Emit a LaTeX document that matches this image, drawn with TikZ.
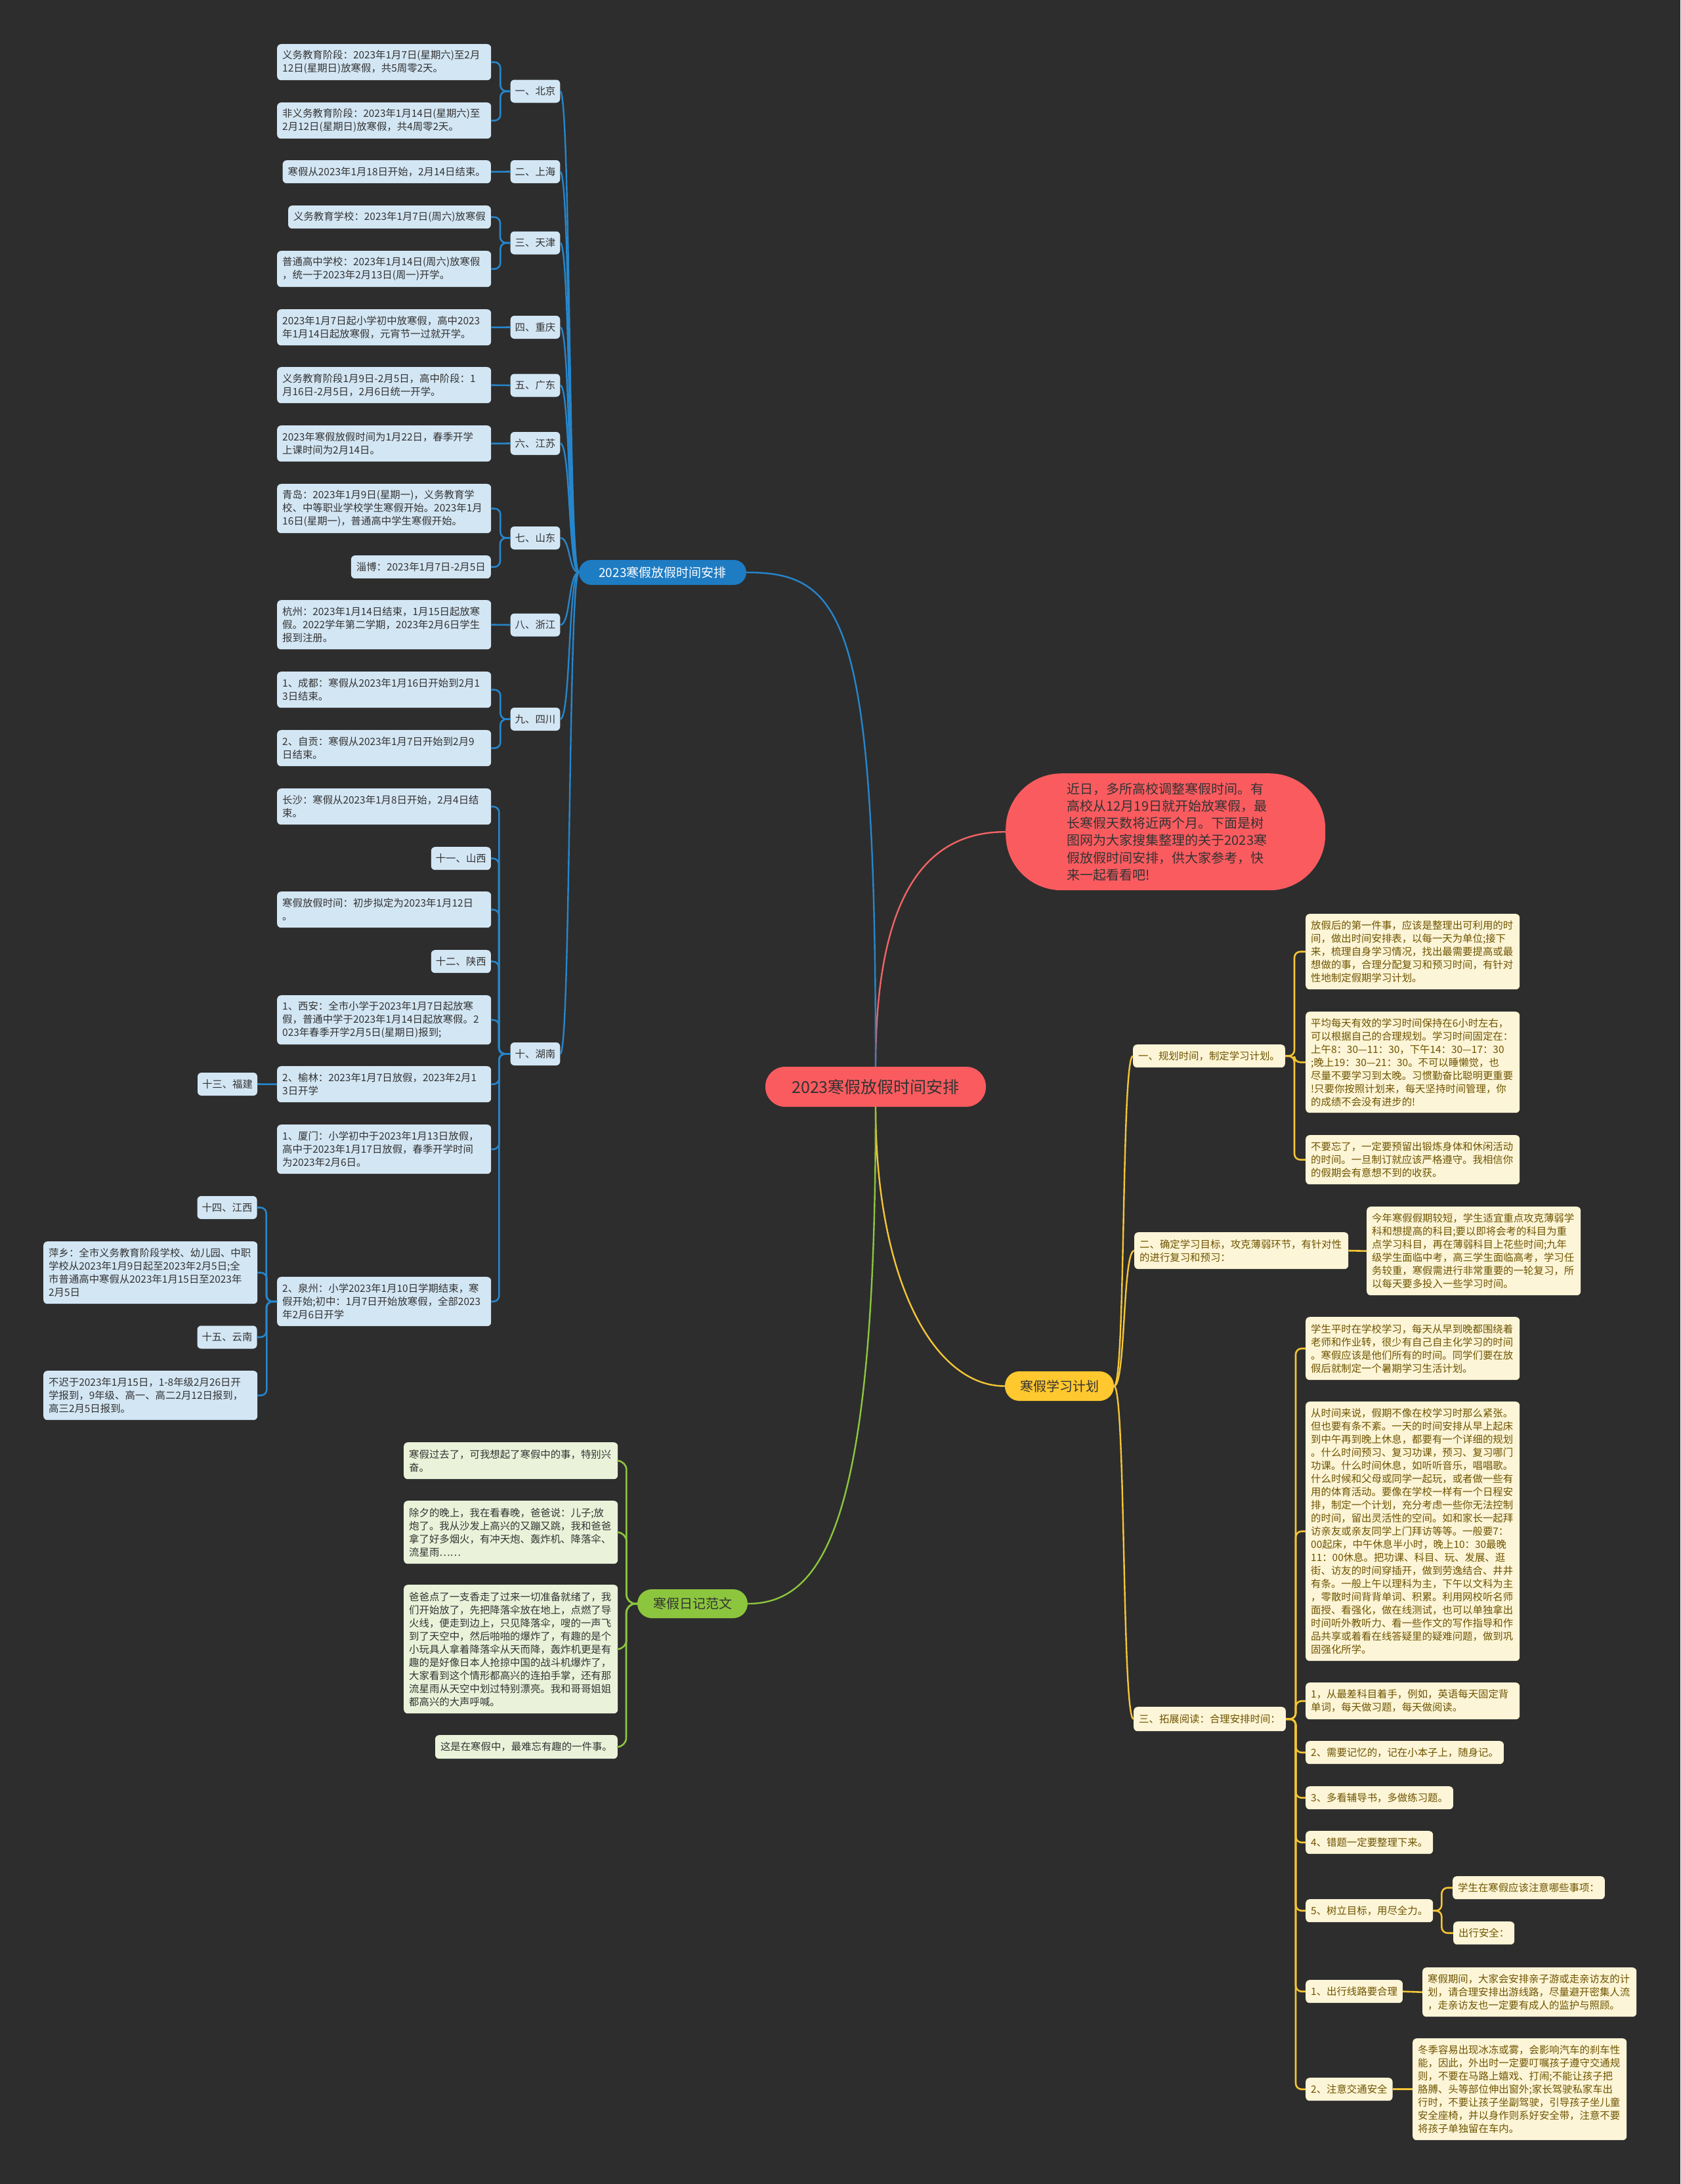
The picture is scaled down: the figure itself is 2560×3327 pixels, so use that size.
\documentclass[tikz,border=0pt]{standalone}
\usepackage{fontspec}
\setmainfont{Noto Sans CJK SC}
\definecolor{bgc}{HTML}{2D2D2D}
\definecolor{redc}{HTML}{FA5B5F}
\definecolor{redl}{HTML}{F06465}
\definecolor{bluec}{HTML}{1E7CC3}
\definecolor{bluel}{HTML}{2686CC}
\definecolor{bleaf}{HTML}{D3E6F4}
\definecolor{yelc}{HTML}{FFC82E}
\definecolor{yell}{HTML}{F4C536}
\definecolor{yleaf}{HTML}{FDF5D7}
\definecolor{ytxt}{HTML}{6E5400}
\definecolor{grnc}{HTML}{8CC63E}
\definecolor{grnl}{HTML}{8CC63E}
\definecolor{gleaf}{HTML}{EAF3DA}
\definecolor{dtxt}{HTML}{333333}
\tikzset{
  lf/.style={font=\fontsize{15.4}{20}\selectfont, inner xsep=8pt, inner ysep=2pt, rounded corners=6pt, align=left, minimum height=35pt},
  bf/.style={lf, fill=bleaf, text=dtxt},
  yf/.style={lf, fill=yleaf, text=ytxt},
  gf/.style={lf, fill=gleaf, text=dtxt},
  wide/.style={text width=310pt, anchor=north west},
  nw/.style={anchor=north west},
  ne/.style={anchor=north east},
  lab/.style={align=center, inner xsep=7pt},
  bline/.style={draw=bluel, line width=2.6pt, rounded corners=9pt},
  yline/.style={draw=yell, line width=2.6pt, rounded corners=9pt},
  gline/.style={draw=grnl, line width=2.6pt, rounded corners=14pt},
  mline/.style={line width=2.4pt},
}
\begin{document}
\begin{tikzpicture}[x=1pt,y=-1pt]
\fill[bgc] (0,0) rectangle (2560,3327);
\useasboundingbox (0,0) rectangle (2560,3327);

% ---------------- main nodes ----------------
\node[fill=redc, text=dtxt, rounded corners=30pt, minimum width=336pt, minimum height=61pt, font=\fontsize{25}{30}\selectfont] (root) at (1334,1655.5) {2023寒假放假时间安排};
\node[fill=redc, text=dtxt, rounded corners=85pt, minimum width=487pt, minimum height=178pt, inner xsep=0pt, text width=300pt, align=left, anchor=north west, font=\fontsize{20}{26.3}\selectfont] (intro) at (1532,1178) {近日，多所高校调整寒假时间。有\\高校从12月19日就开始放寒假，最\\长寒假天数将近两个月。下面是树\\图网为大家搜集整理的关于2023寒\\假放假时间安排，供大家参考，快\\来一起看看吧!};
\node[fill=bluec, text=white, rounded corners=19pt, minimum width=255pt, minimum height=38pt, font=\fontsize{19}{23}\selectfont] (blue) at (1009.5,872) {2023寒假放假时间安排};
\node[fill=yelc, text=dtxt, rounded corners=22pt, minimum width=166pt, minimum height=45pt, font=\fontsize{20}{24}\selectfont] (yel) at (1614,2111.5) {寒假学习计划};
\node[fill=grnc, text=dtxt, rounded corners=22pt, minimum width=168pt, minimum height=44pt, font=\fontsize{20}{24}\selectfont] (grn) at (1055,2443) {寒假日记范文};

\draw[redl, mline] (root.north) .. controls +(0,-280) and +(-110,0) .. (intro.west);
\draw[bluel, mline] (root.north) .. controls +(0,-680) and +(150,0) .. (blue.east);
\draw[yell, mline] (root.south) .. controls +(0,260) and +(-110,0) .. (yel.west);
\draw[grnl, mline] (root.south) .. controls +(0,620) and +(120,0) .. (grn.east);

% ---------------- blue branch ----------------
\node[bf,lab] (bj) at (815.5,139) {一、北京};
\node[bf,lab] (sh) at (815.5,261.5) {二、上海};
\node[bf,lab] (tj) at (815.5,370) {三、天津};
\node[bf,lab] (cq) at (815.5,498.5) {四、重庆};
\node[bf,lab] (gd) at (815.5,587) {五、广东};
\node[bf,lab] (js) at (815.5,675.5) {六、江苏};
\node[bf,lab] (sd) at (815.5,819.5) {七、山东};
\node[bf,lab] (zj) at (815.5,952) {八、浙江};
\node[bf,lab] (sc) at (815.5,1095.5) {九、四川};
\node[bf,lab] (hn) at (815.5,1605.5) {十、湖南};

\foreach \p in {bj,sh,tj,cq,gd,js,sd,zj,sc,hn}
  \draw[bluel, line width=2.4pt] (\p.east) .. controls +(16,0) and +(-16,0) .. (blue.west);

\node[bf,wide,minimum height=55pt] (bj1) at (422,67) {义务教育阶段：2023年1月7日(星期六)至2月\\12日(星期日)放寒假，共5周零2天。};
\node[bf,wide,minimum height=55pt] (bj2) at (422,156) {非义务教育阶段：2023年1月14日(星期六)至\\2月12日(星期日)放寒假，共4周零2天。};
\node[bf,ne] (sh1) at (748,244) {寒假从2023年1月18日开始，2月14日结束。};
\node[bf,ne] (tj1) at (748,313) {义务教育学校：2023年1月7日(周六)放寒假};
\node[bf,wide,minimum height=55pt] (tj2) at (422,382) {普通高中学校：2023年1月14日(周六)放寒假\\，统一于2023年2月13日(周一)开学。};
\node[bf,wide,minimum height=55pt] (cq1) at (422,471) {2023年1月7日起小学初中放寒假，高中2023\\年1月14日起放寒假，元宵节一过就开学。};
\node[bf,wide,minimum height=55pt] (gd1) at (422,559) {义务教育阶段1月9日-2月5日，高中阶段：1\\月16日-2月5日，2月6日统一开学。};
\node[bf,wide,minimum height=55pt] (js1) at (422,648) {2023年寒假放假时间为1月22日，春季开学\\上课时间为2月14日。};
\node[bf,wide,minimum height=75pt] (sd1) at (422,737) {青岛：2023年1月9日(星期一)，义务教育学\\校、中等职业学校学生寒假开始。2023年1月\\16日(星期一)，普通高中学生寒假开始。};
\node[bf,ne] (sd2) at (748,846) {淄博：2023年1月7日-2月5日};
\node[bf,wide,minimum height=75pt] (zj1) at (422,914) {杭州：2023年1月14日结束，1月15日起放寒\\假。2022学年第二学期，2023年2月6日学生\\报到注册。};
\node[bf,wide,minimum height=55pt] (sc1) at (422,1023) {1、成都：寒假从2023年1月16日开始到2月1\\3日结束。};
\node[bf,wide,minimum height=55pt] (sc2) at (422,1112) {2、自贡：寒假从2023年1月7日开始到2月9\\日结束。};
\node[bf,wide,minimum height=55pt] (hn1) at (422,1201) {长沙：寒假从2023年1月8日开始，2月4日结\\束。};
\node[bf,ne,lab] (sx) at (748,1290) {十一、山西};
\node[bf,wide,minimum height=55pt] (hn2) at (422,1358) {寒假放假时间：初步拟定为2023年1月12日\\。};
\node[bf,ne,lab] (sxi) at (748,1447) {十二、陕西};
\node[bf,wide,minimum height=75pt] (hn3) at (422,1516) {1、西安：全市小学于2023年1月7日起放寒\\假，普通中学于2023年1月14日起放寒假。2\\023年春季开学2月5日(星期日)报到;};
\node[bf,wide,minimum height=55pt] (hn4) at (422,1624) {2、榆林：2023年1月7日放假，2023年2月1\\3日开学};
\node[bf,lab] (fj) at (346.5,1651.5) {十三、福建};
\node[bf,wide,minimum height=75pt] (hn5) at (422,1713) {1、厦门：小学初中于2023年1月13日放假，\\高中于2023年1月17日放假，春季开学时间\\为2023年2月6日。};
\node[bf,wide,minimum height=75pt] (hn6) at (422,1945) {2、泉州：小学2023年1月10日学期结束，寒\\假开始;初中：1月7日开始放寒假，全部2023\\年2月6日开学};
\node[bf,lab] (jx) at (346,1839.5) {十四、江西};
\node[bf,wide,minimum height=95pt] (px) at (66,1891) {萍乡：全市义务教育阶段学校、幼儿园、中职\\学校从2023年1月9日起至2023年2月5日;全\\市普通高中寒假从2023年1月15日至2023年\\2月5日};
\node[bf,lab] (yn) at (346,2037) {十五、云南};
\node[bf,wide,minimum height=75pt] (yn1) at (66,2088) {不迟于2023年1月15日，1-8年级2月26日开\\学报到，9年级、高一、高二2月12日报到，\\高三2月5日报到。};

\foreach \c/\p in {bj1/bj,bj2/bj,tj1/tj,tj2/tj,sd1/sd,sd2/sd,sc1/sc,sc2/sc}
  \draw[bline] (\c.east) -- ++(14,0) |- (\p.west);
\foreach \c/\p in {sh1/sh,cq1/cq,gd1/gd,js1/js,zj1/zj}
  \draw[bline] (\c.east) -- (\p.west);
\foreach \c in {hn1,sx,hn2,sxi,hn3,hn4,hn5,hn6}
  \draw[bline] (\c.east) -- ++(12,0) |- (hn.west);
\draw[bline] (hn4.west) -- (fj.east);
\foreach \c in {jx,px,yn,yn1}
  \draw[bline] (\c.east) -- ++(14,0) |- (hn6.west);

% ---------------- green branch ----------------
\node[gf,wide,minimum height=56pt] (g1) at (615,2197) {寒假过去了，可我想起了寒假中的事，特别兴\\奋。};
\node[gf,wide,minimum height=96pt] (g2) at (615,2286) {除夕的晚上，我在看春晚，爸爸说：儿子;放\\炮了。我从沙发上高兴的又蹦又跳，我和爸爸\\拿了好多烟火，有冲天炮、轰炸机、降落伞、\\流星雨……};
\node[gf,wide,minimum height=196pt] (g3) at (615,2414) {爸爸点了一支香走了过来一切准备就绪了，我\\们开始放了，先把降落伞放在地上，点燃了导\\火线，便走到边上，只见降落伞，嗖的一声飞\\到了天空中，然后啪啪的爆炸了，有趣的是个\\小玩具人拿着降落伞从天而降，轰炸机更是有\\趣的是好像日本人抢掠中国的战斗机爆炸了，\\大家看到这个情形都高兴的连拍手掌，还有那\\流星雨从天空中划过特别漂亮。我和哥哥姐姐\\都高兴的大声呼喊。};
\node[gf,ne,minimum height=36pt] (g4) at (941,2643) {这是在寒假中，最难忘有趣的一件事。};
\foreach \c in {g1,g2,g3,g4}
  \draw[gline] (\c.east) -- ++(13,0) |- (grn.west);

% ---------------- yellow branch ----------------
\node[yf,nw,minimum height=35pt] (y1) at (1726,1591) {一、规划时间，制定学习计划。};
\node[yf,wide,minimum height=56pt] (y2) at (1728,1877) {二、确定学习目标，攻克薄弱环节，有针对性\\的进行复习和预习：};
\node[yf,nw,minimum height=37pt] (y3) at (1727,2600) {三、拓展阅读：合理安排时间：};
\foreach \c in {y1,y2,y3}
  \draw[yell, mline] (yel.east) .. controls +(18,0) and +(-18,0) .. (\c.west);

\node[yf,wide,minimum height=115pt] (y1a) at (1989,1392) {放假后的第一件事，应该是整理出可利用的时\\间，做出时间安排表，以每一天为单位;接下\\来，梳理自身学习情况，找出最需要提高或最\\想做的事，合理分配复习和预习时间，有针对\\性地制定假期学习计划。};
\node[yf,wide,minimum height=154pt] (y1b) at (1989,1541) {平均每天有效的学习时间保持在6小时左右，\\可以根据自己的合理规划。学习时间固定在：\\上午8：30—11：30，下午14：30—17：30\\;晚上19：30—21：30。不可以睡懒觉，也\\尽量不要学习到太晚。习惯勤奋比聪明更重要\\!只要你按照计划来，每天坚持时间管理，你\\的成绩不会没有进步的!};
\node[yf,wide,minimum height=75pt] (y1c) at (1989,1729) {不要忘了，一定要预留出锻炼身体和休闲活动\\的时间。一旦制订就应该严格遵守。我相信你\\的假期会有意想不到的收获。};
\foreach \c in {y1a,y1b,y1c}
  \draw[yline] (y1.east) -- ++(14,0) |- (\c.west);

\node[yf,wide,minimum height=135pt] (y2a) at (2082,1838) {今年寒假假期较短，学生适宜重点攻克薄弱学\\科和想提高的科目;要以即将会考的科目为重\\点学习科目，再在薄弱科目上花些时间;九年\\级学生面临中考，高三学生面临高考，学习任\\务较重，寒假需进行非常重要的一轮复习，所\\以每天要多投入一些学习时间。};
\draw[yline] (y2.east) -- (y2a.west);

\node[yf,wide,minimum height=96pt] (y3a) at (1989,2006) {学生平时在学校学习，每天从早到晚都围绕着\\老师和作业转，很少有自己自主化学习的时间\\。寒假应该是他们所有的时间。同学们要在放\\假后就制定一个暑期学习生活计划。};
\node[yf,wide,minimum height=395pt] (y3b) at (1989,2135) {从时间来说，假期不像在校学习时那么紧张。\\但也要有条不紊。一天的时间安排从早上起床\\到中午再到晚上休息，都要有一个详细的规划\\。什么时间预习、复习功课，预习、复习哪门\\功课。什么时间休息，如听听音乐，唱唱歌。\\什么时候和父母或同学一起玩，或者做一些有\\用的体育活动。要像在学校一样有一个日程安\\排，制定一个计划，充分考虑一些你无法控制\\的时间，留出灵活性的空间。如和家长一起拜\\访亲友或亲友同学上门拜访等等。一般要7：\\00起床，中午休息半小时，晚上10：30最晚\\11：00休息。把功课、科目、玩、发展、逛\\街、访友的时间穿插开，做到劳逸结合、井井\\有条。一般上午以理科为主，下午以文科为主\\，零散时间背背单词、积累。利用网校听名师\\面授、看强化，做在线测试，也可以单独拿出\\时间听外教听力、看一些作文的写作指导和作\\品共享或着看在线答疑里的疑难问题，做到巩\\固强化所学。};
\node[yf,wide,minimum height=56pt] (y3c) at (1989,2563) {1，从最差科目着手，例如，英语每天固定背\\单词，每天做习题，每天做阅读。};
\node[yf,nw] (y3d) at (1989,2652) {2、需要记忆的，记在小本子上，随身记。};
\node[yf,nw] (y3e) at (1989,2721) {3、多看辅导书，多做练习题。};
\node[yf,nw] (y3f) at (1989,2789) {4、错题一定要整理下来。};
\node[yf,nw] (y3g) at (1989,2893) {5、树立目标，用尽全力。};
\node[yf,nw] (y3h) at (1989,3016) {1、出行线路要合理};
\node[yf,nw] (y3i) at (1989,3165) {2、注意交通安全};
\foreach \c in {y3a,y3b,y3c,y3d,y3e,y3f,y3g,y3h,y3i}
  \draw[yline] (y3.east) -- ++(15,0) |- (\c.west);

\node[yf,nw] (y3g1) at (2213,2858) {学生在寒假应该注意哪些事项：};
\node[yf,nw] (y3g2) at (2214,2927) {出行安全：};
\foreach \c in {y3g1,y3g2}
  \draw[yline] (y3g.east) -- ++(13,0) |- (\c.west);

\node[yf,wide,minimum height=75pt] (y3h1) at (2167,2997) {寒假期间，大家会安排亲子游或走亲访友的计\\划，请合理安排出游线路，尽量避开密集人流\\，走亲访友也一定要有成人的监护与照顾。};
\draw[yline] (y3h.east) -- (y3h1.west);
\node[yf,wide,minimum height=155pt] (y3i1) at (2152,3105) {冬季容易出现冰冻或雾，会影响汽车的刹车性\\能，因此，外出时一定要叮嘱孩子遵守交通规\\则，不要在马路上嬉戏、打闹;不能让孩子把\\胳膊、头等部位伸出窗外;家长驾驶私家车出\\行时，不要让孩子坐副驾驶，引导孩子坐儿童\\安全座椅，并以身作则系好安全带，注意不要\\将孩子单独留在车内。};
\draw[yline] (y3i.east) -- (y3i1.west);
\end{tikzpicture}
\end{document}
